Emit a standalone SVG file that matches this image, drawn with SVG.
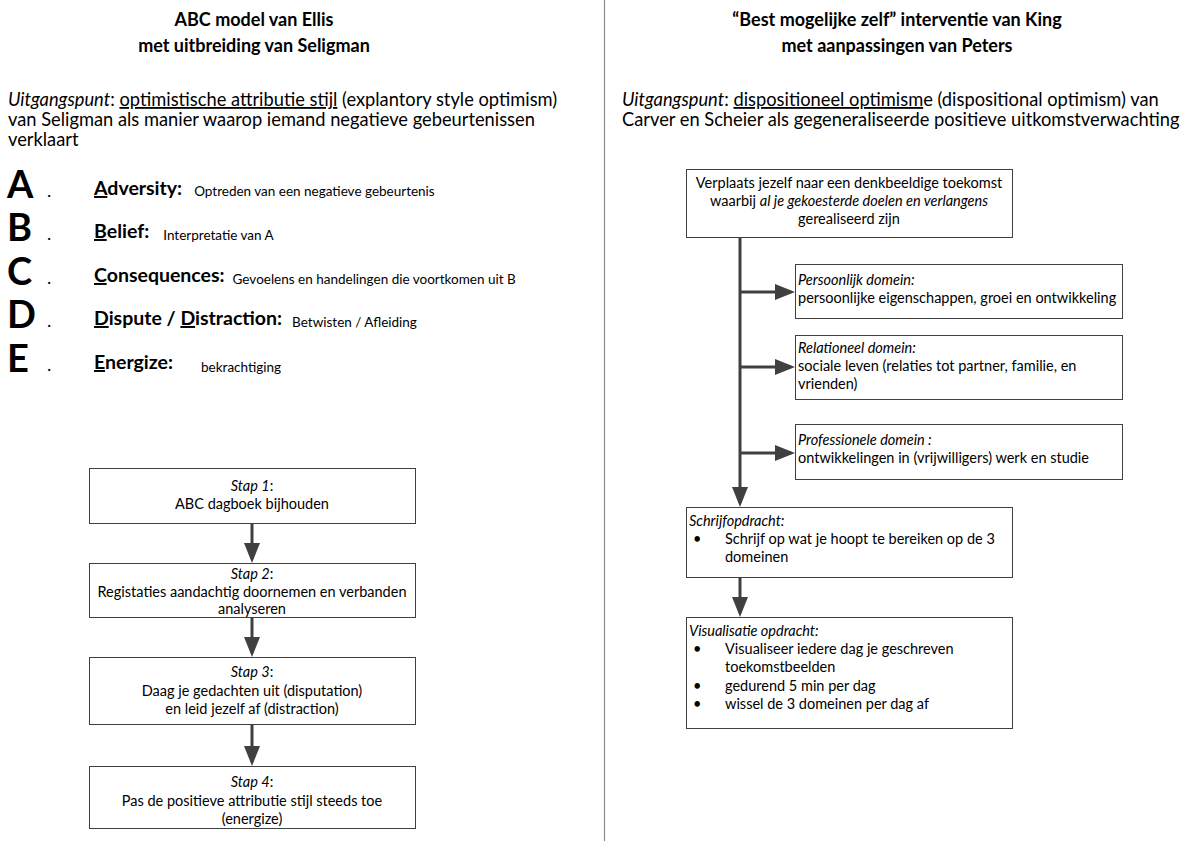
<svg xmlns="http://www.w3.org/2000/svg" width="1191" height="841" viewBox="0 0 1191 841">
<style>
text{font-family:Lato,"Liberation Sans",sans-serif;fill:#000}
.t{font-size:18px;font-weight:bold}
.u{font-size:18.3px}
.b{font-size:14.5px}
.c{text-anchor:middle}
.i{font-style:italic}
.ul{text-decoration:underline}
.big{font-size:38px;font-weight:bold}
.dot{font-size:18px}
.kw{font-size:19.5px;font-weight:bold}
.ds{font-size:13.5px;font-weight:normal}
.box{fill:#fff;stroke:#404040;stroke-width:1}
.arr{stroke:#404040;stroke-width:3;fill:none;marker-end:url(#ah)}
</style>
<defs>
<marker id="ah" markerUnits="userSpaceOnUse" markerWidth="20" markerHeight="16" refX="16" refY="8" orient="auto">
<path d="M0,0 L20,8 L0,16 z" fill="#404040"/>
</marker>
</defs>
<rect width="1191" height="841" fill="#fff"/>
<line x1="604.5" y1="0" x2="604.5" y2="841" stroke="#8c8c8c" stroke-width="1.2"/>

<g id="left-header">
<text class="t c" x="254" y="26">ABC model van Ellis</text>
<text class="t c" x="254" y="52">met uitbreiding van Seligman</text>
<text class="u" x="8" y="106"><tspan class="i">Uitgangspunt</tspan>: <tspan class="ul">optimistische attributie stijl</tspan> (explantory style optimism)</text>
<text class="u" x="8" y="126">van Seligman als manier waarop iemand negatieve gebeurtenissen</text>
<text class="u" x="8" y="146">verklaart</text>
</g>

<g id="abc-list">
<text class="big" x="7" y="198">A</text><text class="dot" x="47" y="197">.</text>
<text class="kw" x="94" y="195"><tspan class="ul">A</tspan>dversity:<tspan class="ds" dx="12" dy="1">Optreden van een negatieve gebeurtenis</tspan></text>

<text class="big" x="7" y="241">B</text><text class="dot" x="47" y="240">.</text>
<text class="kw" x="94" y="238"><tspan class="ul">B</tspan>elief:<tspan class="ds" dx="14" dy="2">Interpretatie van A</tspan></text>

<text class="big" x="7" y="285">C</text><text class="dot" x="47" y="284">.</text>
<text class="kw" x="94" y="282"><tspan class="ul">C</tspan>onsequences:<tspan class="ds" dx="8" dy="2">Gevoelens en handelingen die voortkomen uit B</tspan></text>

<text class="big" x="7" y="328">D</text><text class="dot" x="47" y="327">.</text>
<text class="kw" x="94" y="325"><tspan class="ul">D</tspan>ispute / <tspan class="ul">D</tspan>istraction:<tspan class="ds" dx="10" dy="2">Betwisten / Afleiding</tspan></text>

<text class="big" x="7" y="372">E</text><text class="dot" x="47" y="371">.</text>
<text class="kw" x="94" y="369"><tspan class="ul">E</tspan>nergize:<tspan class="ds" dx="28" dy="3">bekrachtiging</tspan></text>
</g>

<g id="stap1">
<rect class="box" x="89.5" y="468.5" width="326" height="55"/>
<text class="b c" x="252" y="491"><tspan class="i">Stap 1</tspan>:</text>
<text class="b c" x="252" y="509">ABC dagboek bijhouden</text>
</g>
<g id="stap2">
<rect class="box" x="89.5" y="563.5" width="326" height="54"/>
<text class="b c" x="252" y="579"><tspan class="i">Stap 2</tspan>:</text>
<text class="b c" x="252" y="597">Registaties aandachtig doornemen en verbanden</text>
<text class="b c" x="252" y="614">analyseren</text>
</g>
<g id="stap3">
<rect class="box" x="89.5" y="657.5" width="326" height="67"/>
<text class="b c" x="252" y="677"><tspan class="i">Stap 3</tspan>:</text>
<text class="b c" x="252" y="696">Daag je gedachten uit (disputation)</text>
<text class="b c" x="252" y="714">en leid jezelf af (distraction)</text>
</g>
<g id="stap4">
<rect class="box" x="89.5" y="766.5" width="326" height="62"/>
<text class="b c" x="252" y="787"><tspan class="i">Stap 4</tspan>:</text>
<text class="b c" x="252" y="806">Pas de positieve attributie stijl steeds toe</text>
<text class="b c" x="252" y="824">(energize)</text>
</g>

<g id="right-header">
<text class="t c" x="897" y="26">“Best mogelijke zelf” interventie van King</text>
<text class="t c" x="897" y="52">met aanpassingen van Peters</text>
<text class="u" x="622" y="106"><tspan class="i">Uitgangspunt</tspan>: <tspan class="ul">dispositioneel optimism</tspan>e (dispositional optimism) van</text>
<text class="u" x="622" y="126">Carver en Scheier als gegeneraliseerde positieve uitkomstverwachting</text>
</g>

<g id="toekomst">
<rect class="box" x="686.5" y="169.5" width="326" height="68"/>
<text class="b c" x="849" y="188">Verplaats jezelf naar een denkbeeldige toekomst</text>
<text class="b c" x="849" y="206">waarbij <tspan class="i">al je gekoesterde doelen en verlangens</tspan></text>
<text class="b c" x="849" y="224">gerealiseerd zijn</text>
</g>
<g id="persoonlijk">
<rect class="box" x="795.5" y="264.5" width="327" height="54"/>
<text class="b i" x="798" y="285">Persoonlijk domein:</text>
<text class="b" x="798" y="303">persoonlijke eigenschappen, groei en ontwikkeling</text>
</g>
<g id="relationeel">
<rect class="box" x="795.5" y="335.5" width="327" height="64"/>
<text class="b i" x="798" y="353">Relationeel domein:</text>
<text class="b" x="798" y="371">sociale leven (relaties tot partner, familie, en</text>
<text class="b" x="798" y="389">vrienden)</text>
</g>
<g id="professioneel">
<rect class="box" x="795.5" y="424.5" width="327" height="55"/>
<text class="b i" x="798" y="445">Professionele domein :</text>
<text class="b" x="798" y="463">ontwikkelingen in (vrijwilligers) werk en studie</text>
</g>
<g id="schrijf">
<rect class="box" x="686.5" y="507.5" width="326" height="70"/>
<text class="b i" x="689" y="526">Schrijfopdracht:</text>
<text class="b" x="693" y="544">•</text>
<text class="b" x="725" y="544">Schrijf op wat je hoopt te bereiken op de 3</text>
<text class="b" x="725" y="562">domeinen</text>
</g>
<g id="visualisatie">
<rect class="box" x="686.5" y="617.5" width="326" height="111"/>
<text class="b i" x="689" y="636">Visualisatie opdracht:</text>
<text class="b" x="693" y="654">•</text>
<text class="b" x="725" y="654">Visualiseer iedere dag je geschreven</text>
<text class="b" x="725" y="672">toekomstbeelden</text>
<text class="b" x="693" y="691">•</text>
<text class="b" x="725" y="691">gedurend 5 min per dag</text>
<text class="b" x="693" y="709">•</text>
<text class="b" x="725" y="709">wissel de 3 domeinen per dag af</text>
</g>

<g id="connectors">
<line class="arr" x1="252" y1="524" x2="252" y2="559"/>
<line class="arr" x1="252" y1="618" x2="252" y2="653"/>
<line class="arr" x1="252" y1="725" x2="252" y2="762"/>
<line class="arr" x1="740" y1="238" x2="740" y2="503"/>
<line class="arr" x1="740" y1="292" x2="791" y2="292"/>
<line class="arr" x1="740" y1="367" x2="791" y2="367"/>
<line class="arr" x1="740" y1="453" x2="791" y2="453"/>
<line class="arr" x1="740" y1="578" x2="740" y2="613"/>
</g>
</svg>
